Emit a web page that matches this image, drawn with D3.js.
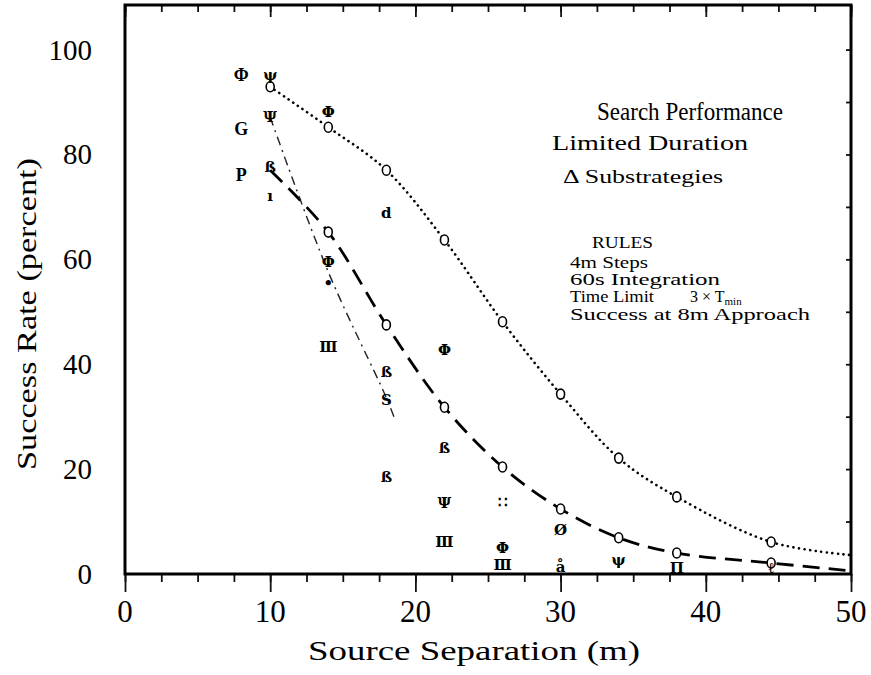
<!DOCTYPE html>
<html>
<head>
<meta charset="utf-8">
<script src="https://cdn.jsdelivr.net/npm/d3@7"></script>
<style>
  body { margin: 0; background: #fff; }
  svg { font-family: "Liberation Serif", "DejaVu Serif", serif; }
</style>
</head>
<body>
<svg width="871" height="675"></svg>
<script>
// data
const sepDotted = [10, 14, 18, 22, 26, 30, 34, 38, 44.5, 50]
const rateDotted = [92.9, 85.2, 77.0, 63.7, 48.1, 34.3, 22.1, 14.7, 6.1, 3.6]
const sepDashed = [10, 14, 18, 22, 26, 30, 34, 38, 44.5, 50]
const rateDashed = [77.0, 65.2, 47.5, 31.8, 20.4, 12.4, 6.9, 4.0, 2.1, 0.6]
const sepDashDot = [10, 14, 18, 18.6]
const rateDashDot = [87.1, 57.6, 33.6, 29.4]

// substrategy symbols scattered around the curves
const symSep = [10, 10, 10, 10, 14, 14, 14, 14, 18, 18, 18, 18, 22, 22, 22, 22, 26, 26, 26, 30, 30, 34, 38, 44.5]
const symRate = [95.1, 87.2, 77.6, 72, 88.1, 59.5, 55.5, 43.3, 68.8, 38.6, 33.2, 18.5, 42.7, 24.1, 13.5, 6.1, 13.7, 4.9, 1.7, 8.4, 1.4, 2.7, 1.2, 1.2]
const symText = ["ψ", "Ψ", "ß", "ı", "Φ", "Φ", "•", "Ⅲ", "d", "ß", "S", "ß", "Φ", "ß", "Ψ", "Ⅲ", "∷", "Φ", "Ⅲ", "Ø", "å", "ψ", "Π", "ℓ"]

const curveLabels = ["Φ", "G", "P"]
const curveLabelRate = [95.1, 84.8, 76.1]
const curveLabelSep = 8

const xTicks = [0, 10, 20, 30, 40, 50]
const yTicks = [0, 20, 40, 60, 80, 100]

const marge = {top: 5, bottom: 101, left: 125, right: 20}
const width = 871, height = 675

const svg = d3.select('svg')
const x = d3.scaleLinear().domain([0, 50]).range([marge.left, width - marge.right])
const y = d3.scaleLinear().domain([0, 108.5]).range([height - marge.bottom, marge.top])
const x0 = x(0), x1 = x(50), yb = y(0), yt = y(108.5)

// ticks: bottom hang outside, top/right point inside
const minor = d3.range(0, 50.01, 2.5)
svg.append('g').attr('transform', `translate(0,${yb})`)
  .call(d3.axisBottom(x).tickValues(minor).tickSize(8).tickFormat(''))
svg.append('g').attr('transform', `translate(0,${yb})`)
  .call(d3.axisBottom(x).tickValues(xTicks).tickSize(18).tickFormat(''))
svg.append('g').attr('transform', `translate(0,${yt})`)
  .call(d3.axisBottom(x).tickValues(minor).tickSize(7).tickFormat(''))
svg.append('g').attr('transform', `translate(0,${yt})`)
  .call(d3.axisBottom(x).tickValues(xTicks).tickSize(12).tickFormat(''))
svg.append('g').attr('transform', `translate(${x1},0)`)
  .call(d3.axisLeft(y).tickValues(d3.range(10, 101, 10)).tickSize(5).tickFormat(''))
svg.selectAll('.domain').remove()
svg.selectAll('.tick line').attr('stroke', '#111').attr('stroke-width', 1.8)

// frame
svg.append('rect').attr('x', x0).attr('y', yt).attr('width', x1 - x0).attr('height', yb - yt)
  .attr('fill', 'none').attr('stroke', '#000').attr('stroke-width', 3)

// tick labels
svg.append('g').selectAll('text').data(xTicks).enter().append('text')
  .attr('x', d => x(d)).attr('y', 622).attr('text-anchor', 'middle')
  .attr('font-size', 31).text(d => d)
svg.append('g').selectAll('text').data(yTicks).enter().append('text')
  .attr('x', 92).attr('y', d => y(d) + 10).attr('text-anchor', 'end')
  .attr('font-size', 29).text(d => d)

// axis titles
svg.append('text').attr('x', 474).attr('y', 660).attr('text-anchor', 'middle')
  .attr('font-size', 28).attr('textLength', 332).attr('lengthAdjust', 'spacingAndGlyphs')
  .text('Source Separation (m)')
svg.append('text').attr('transform', 'translate(36,314) rotate(-90)').attr('text-anchor', 'middle')
  .attr('font-size', 27).attr('textLength', 312).attr('lengthAdjust', 'spacingAndGlyphs')
  .text('Success Rate (percent)')

// annotation block
const notes = [
  {t: 'Search Performance', x: 597, y: 120, s: 25, w: 186},
  {t: 'Limited Duration', x: 552, y: 150, s: 21, w: 196},
  {t: 'Δ Substrategies', x: 563, y: 183, s: 18, w: 160},
  {t: 'RULES', x: 592, y: 248, s: 16, w: 61},
  {t: '4m Steps', x: 570, y: 268, s: 16, w: 78},
  {t: '60s Integration', x: 570, y: 285, s: 16, w: 150},
  {t: 'Success at 8m Approach', x: 570, y: 320, s: 16, w: 240}
]
svg.append('g').selectAll('text').data(notes).enter().append('text')
  .attr('x', d => d.x).attr('y', d => d.y).attr('font-size', d => d.s)
  .attr('textLength', d => d.w).attr('lengthAdjust', 'spacingAndGlyphs').text(d => d.t)
const tl = svg.append('text').attr('x', 570).attr('y', 302).attr('font-size', 16)
tl.append('tspan').attr('textLength', 84).attr('lengthAdjust', 'spacingAndGlyphs').text('Time Limit')
tl.append('tspan').attr('x', 690).text('3 × T')
tl.append('tspan').attr('font-size', 11).attr('dy', 3).text('min')

// curves
const line = d3.line().x(d => x(d[0])).y(d => y(d[1])).curve(d3.curveCatmullRom.alpha(0.5))
const dotted = d3.zip(sepDotted, rateDotted)
const dashed = d3.zip(sepDashed, rateDashed)
const dashDot = d3.zip(sepDashDot, rateDashDot)

svg.append('path').attr('d', line(dotted)).attr('fill', 'none').attr('stroke', '#000')
  .attr('stroke-width', 2.6).attr('stroke-linecap', 'round').attr('stroke-dasharray', '0.1 5.5')
svg.append('path').attr('d', line(dashed)).attr('fill', 'none').attr('stroke', '#000')
  .attr('stroke-width', 2.8).attr('stroke-dasharray', '17 9')
svg.append('path').attr('d', line(dashDot)).attr('fill', 'none').attr('stroke', '#222')
  .attr('stroke-width', 1.4).attr('stroke-dasharray', '9 5 2 5')

// open markers on the two main curves
const marks = dotted.filter(d => d[0] < 50).concat(dashed.filter(d => d[0] > 10 && d[0] < 50))
svg.append('g').selectAll('ellipse').data(marks).enter().append('ellipse')
  .attr('cx', d => x(d[0])).attr('cy', d => y(d[1])).attr('rx', 4).attr('ry', 5)
  .attr('fill', '#fff').attr('stroke', '#000').attr('stroke-width', 1.6)

// substrategy symbols
svg.append('g').selectAll('text').data(d3.range(symText.length)).enter().append('text')
  .attr('x', i => x(symSep[i])).attr('y', i => y(symRate[i]) + 5)
  .attr('text-anchor', 'middle').attr('font-size', 15).attr('font-weight', 'bold')
  .attr('font-family', '"DejaVu Serif", serif').text(i => symText[i])

svg.append('g').selectAll('text').data(curveLabels).enter().append('text')
  .attr('x', x(curveLabelSep)).attr('y', (d, i) => y(curveLabelRate[i]) + 6)
  .attr('text-anchor', 'middle').attr('font-size', 18).attr('font-weight', 'bold').text(d => d)
</script>
</body>
</html>
